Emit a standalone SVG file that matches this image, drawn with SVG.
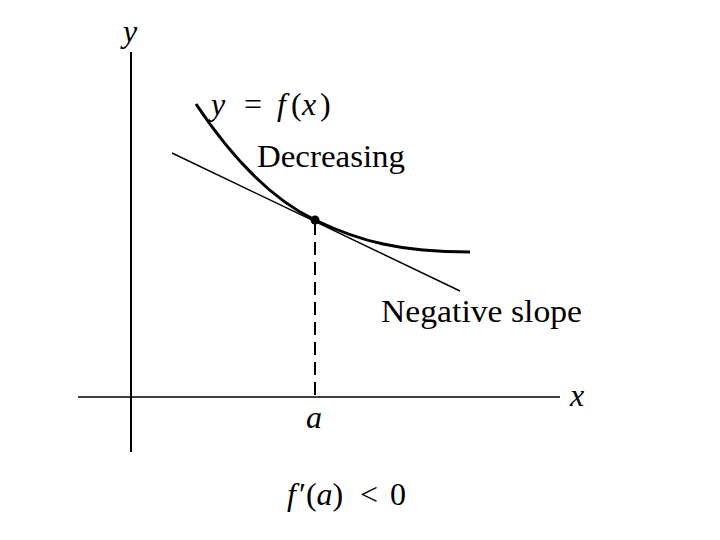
<svg xmlns="http://www.w3.org/2000/svg" width="720" height="540" viewBox="0 0 720 540">
<style>
.t{font-family:"Liberation Serif","Times New Roman",serif;font-size:32px;fill:#000}
.i{font-style:italic}
.ax{stroke:#000;stroke-width:2;fill:none}
</style>
<rect width="720" height="540" fill="#fff"/>
<g id="connectors">
<line class="ax" x1="131" y1="52" x2="131" y2="452"/>
<line x1="78" y1="397" x2="560" y2="397" stroke="#000" stroke-width="1.5"/>
<line x1="172" y1="153" x2="460" y2="291" stroke="#000" stroke-width="1.5"/>
<path d="M196,104 C230,155 270,198.5 315,220 C360,241.5 400,252 470,252" fill="none" stroke="#000" stroke-width="3"/>
<line x1="315" y1="222" x2="315" y2="397" stroke="#000" stroke-width="2" stroke-dasharray="13,7"/>
</g>
<g id="point"><circle cx="315" cy="220" r="4.5" fill="#000"/></g>
<g id="labels">
<text class="t i" x="123" y="42">y</text>
<text class="t i" x="570" y="406">x</text>
<text class="t i" x="306" y="428">a</text>
<text class="t" x="211" y="115"><tspan class="i">y</tspan><tspan x="244">=</tspan><tspan x="277" class="i">f</tspan><tspan x="291">(</tspan><tspan x="302" class="i">x</tspan><tspan x="320">)</tspan></text>
<text class="t" x="257" y="167" textLength="148" lengthAdjust="spacingAndGlyphs">Decreasing</text>
<text class="t" x="381" y="322" textLength="201" lengthAdjust="spacingAndGlyphs">Negative slope</text>
<text class="t" x="287" y="505"><tspan class="i">f</tspan><tspan dx="3">′</tspan>(<tspan class="i">a</tspan>)<tspan x="360">&lt;</tspan><tspan x="390">0</tspan></text>
</g>
</svg>
